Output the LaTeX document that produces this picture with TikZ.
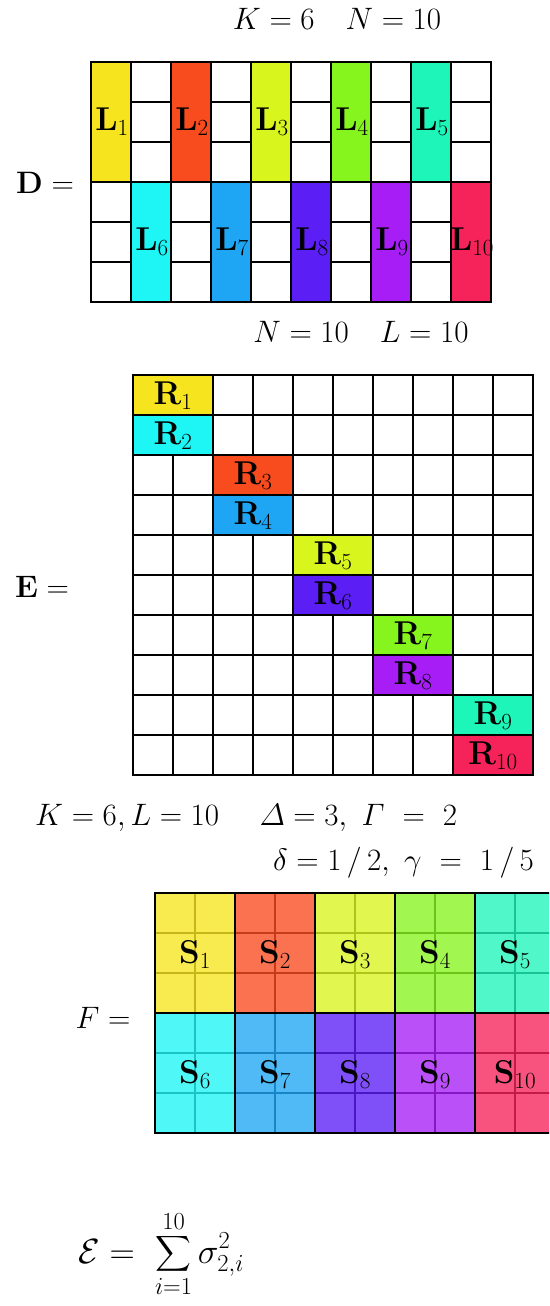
\RequirePackage{fix-cm}
\documentclass[tikz,border=0pt]{standalone}
\usepackage{amsmath}
\definecolor{cYellow}{HTML}{F6E51E}
\definecolor{cOrange}{HTML}{F84B1E}
\definecolor{cLime}{HTML}{D9F51E}
\definecolor{cGreen}{HTML}{86F51E}
\definecolor{cMint}{HTML}{1EF5B8}
\definecolor{cCyan}{HTML}{1EF5F5}
\definecolor{cBlue}{HTML}{1EA6F5}
\definecolor{cIndigo}{HTML}{5B1EF5}
\definecolor{cViolet}{HTML}{A61EF5}
\definecolor{cRose}{HTML}{F5235A}
\tikzset{
  cell/.style={line width=2pt,line cap=rect},
  blk/.style={line width=2.5pt},
  big/.style={font=\fontsize{31}{37}\selectfont,inner sep=0pt},
  lbl/.style={font=\fontsize{33}{40}\selectfont,inner sep=0pt}
}
\begin{document}
\begin{tikzpicture}[x=1pt,y=-1pt]
\clip (0,0) rectangle (549,1306);
\node[big,anchor=base] (kn) at (337,30) {$K = 6 \quad N = 10$};
\node[big] (dlab) at (45,183) {$\mathbf{D} =$};
\begin{scope}[shift={(91,62)}]
\foreach \c [count=\i from 0] in {cYellow,cOrange,cLime,cGreen,cMint} {
  \foreach \r in {0,1,2} \draw[cell] ({80*\i+40},{40*\r}) rectangle ++(40,40);
  \filldraw[cell,fill=\c] ({80*\i},0) rectangle ++(40,120);
  \pgfmathtruncatemacro\n{\i+1}
  \node[lbl] (l\n) at ({80*\i+21},60) {$\mathbf{L}_{\n}$};
}
\foreach \c [count=\i from 0] in {cCyan,cBlue,cIndigo,cViolet,cRose} {
  \foreach \r in {3,4,5} \draw[cell] ({80*\i},{40*\r}) rectangle ++(40,40);
  \filldraw[cell,fill=\c] ({80*\i+40},120) rectangle ++(40,120);
  \pgfmathtruncatemacro\n{\i+6}
  \node[lbl] (l\n) at ({80*\i+61},180) {$\mathbf{L}_{\n}$};
}
\end{scope}
\node[big,anchor=base] (nl) at (361,342) {$N = 10 \quad L = 10$};
\node[big] (elab) at (42,587) {$\mathbf{E} =$};
\begin{scope}[shift={(133,375)}]
\foreach \k in {0,...,10} {
  \draw[cell] (0,{40*\k}) -- (400,{40*\k});
  \draw[cell] ({40*\k},0) -- ({40*\k},400);
}
\foreach \c [count=\n] in {cYellow,cCyan,cOrange,cBlue,cLime,cIndigo,cGreen,cViolet,cMint,cRose} {
  \pgfmathsetmacro\bx{80*int((\n-1)/2)}
  \filldraw[cell,fill=\c] (\bx,{40*(\n-1)}) rectangle ++(80,40);
  \node[lbl] (r\n) at ({\bx+40},{40*\n-19}) {$\mathbf{R}_{\n}$};
}
\end{scope}
\node[big,anchor=base west] (kl) at (35,825) {$K = 6, L = 10 \quad\ \varDelta = 3,\ \varGamma\ =\ 2$};
\node[big,anchor=base west] (dg) at (273,870) {$\delta = 1\,/\,2,\ \gamma\ =\ 1\,/\,5$};
\node[big] (flab) at (103,1018) {$F =$};
\begin{scope}[shift={(155,893)}]
\foreach \c [count=\n from 0] in {cYellow,cOrange,cLime,cGreen,cMint,cCyan,cBlue,cIndigo,cViolet,cRose} {
  \pgfmathtruncatemacro\col{mod(\n,5)}
  \pgfmathtruncatemacro\row{\n/5}
  \pgfmathtruncatemacro\m{\n+1}
  \begin{scope}[shift={({80*\col},{120*\row})}]
    \fill[\c!78] (0,0) rectangle (80,120);
    \draw[cell,\c!80!black] (40,0) -- (40,120) (0,40) -- (80,40) (0,80) -- (80,80);
    \draw[blk] (0,0) rectangle (80,120);
    \node[lbl] (s\m) at (40,62) {$\mathbf{S}_{\m}$};
  \end{scope}
}
\end{scope}
\node[anchor=west,inner sep=0pt,font=\fontsize{35}{42}\selectfont] (err) at (78,1254) {$\mathcal{E} =\ \displaystyle\sum_{i=1}^{10}\sigma_{2,i}^{2}$};
\end{tikzpicture}
\end{document}
